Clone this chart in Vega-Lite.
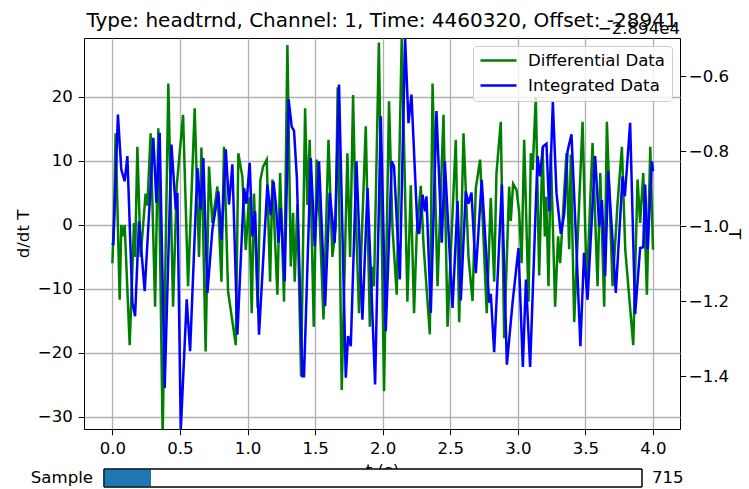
{
  "$schema": "https://vega.github.io/schema/vega-lite/v6.json",
  "padding": {"left": 14, "top": 10, "right": 0, "bottom": 0},
  "bounds": "flush",
  "spacing": 40,
  "config": {
    "font": "DejaVu Sans",
    "view": {"stroke": "#000000", "strokeWidth": 1},
    "axis": {
      "labelFont": "DejaVu Sans",
      "labelFontSize": 16.6,
      "labelColor": "#000000",
      "titleFont": "DejaVu Sans",
      "titleFontSize": 16.6,
      "titleFontWeight": "normal",
      "titleColor": "#000000",
      "tickColor": "#000000",
      "tickSize": 5.8,
      "tickWidth": 1,
      "labelPadding": 5.8,
      "domain": false,
      "gridColor": "#b0b0b0",
      "gridWidth": 1.3,
      "gridOpacity": 1
    }
  },
  "datasets": {
    "diff": [
      {"t": 0.0, "v": -6.0}, {"t": 0.012, "v": 1.3}, {"t": 0.024, "v": 14.3}, {"t": 0.054, "v": -11.7},
      {"t": 0.066, "v": 0.0}, {"t": 0.081, "v": -1.8}, {"t": 0.091, "v": 0.0}, {"t": 0.128, "v": -18.8},
      {"t": 0.16, "v": 0.3}, {"t": 0.168, "v": -5.0}, {"t": 0.185, "v": 12.2}, {"t": 0.209, "v": -5.0},
      {"t": 0.246, "v": 4.9}, {"t": 0.259, "v": 3.0}, {"t": 0.283, "v": 14.3}, {"t": 0.316, "v": -12.8},
      {"t": 0.34, "v": 15.1}, {"t": 0.372, "v": -33.0}, {"t": 0.414, "v": 22.1}, {"t": 0.449, "v": -12.8},
      {"t": 0.476, "v": 6.0}, {"t": 0.523, "v": 17.2}, {"t": 0.56, "v": -9.6}, {"t": 0.609, "v": 18.2},
      {"t": 0.641, "v": -5.0}, {"t": 0.659, "v": 12.1}, {"t": 0.69, "v": -19.8}, {"t": 0.715, "v": 9.1},
      {"t": 0.74, "v": 0.3}, {"t": 0.777, "v": 6.0}, {"t": 0.807, "v": -8.9}, {"t": 0.826, "v": 12.2},
      {"t": 0.856, "v": -10.4}, {"t": 0.913, "v": -18.8}, {"t": 0.932, "v": 11.2}, {"t": 0.962, "v": 7.5},
      {"t": 0.987, "v": -3.9}, {"t": 1.011, "v": 4.3}, {"t": 1.031, "v": -13.8}, {"t": 1.048, "v": 4.9},
      {"t": 1.075, "v": -13.0}, {"t": 1.095, "v": 7.0}, {"t": 1.115, "v": 9.1}, {"t": 1.142, "v": 10.2},
      {"t": 1.167, "v": -8.9}, {"t": 1.184, "v": 7.1}, {"t": 1.221, "v": -10.9}, {"t": 1.241, "v": 8.1},
      {"t": 1.27, "v": -12.0}, {"t": 1.295, "v": 28.1}, {"t": 1.32, "v": -6.5}, {"t": 1.337, "v": 1.9},
      {"t": 1.349, "v": -8.9}, {"t": 1.369, "v": 3.2}, {"t": 1.396, "v": -23.7}, {"t": 1.426, "v": 18.2},
      {"t": 1.443, "v": 3.1}, {"t": 1.46, "v": 13.3}, {"t": 1.49, "v": -15.9}, {"t": 1.512, "v": 10.2},
      {"t": 1.534, "v": 0.7}, {"t": 1.562, "v": -14.8}, {"t": 1.599, "v": 13.3}, {"t": 1.628, "v": -5.0},
      {"t": 1.653, "v": -0.3}, {"t": 1.667, "v": 21.5}, {"t": 1.697, "v": -25.8}, {"t": 1.739, "v": 11.2},
      {"t": 1.759, "v": -5.0}, {"t": 1.781, "v": 20.3}, {"t": 1.796, "v": 4.9}, {"t": 1.825, "v": -13.8},
      {"t": 1.875, "v": 15.4}, {"t": 1.905, "v": -15.9}, {"t": 1.924, "v": -6.5}, {"t": 1.936, "v": -9.6},
      {"t": 1.972, "v": 28.5}, {"t": 2.01, "v": -26.0}, {"t": 2.047, "v": 19.3}, {"t": 2.072, "v": -0.3},
      {"t": 2.104, "v": -10.9}, {"t": 2.141, "v": 29.4}, {"t": 2.183, "v": -12.0}, {"t": 2.208, "v": 6.2},
      {"t": 2.232, "v": -13.8}, {"t": 2.252, "v": -1.3}, {"t": 2.282, "v": 6.1}, {"t": 2.302, "v": -3.0},
      {"t": 2.349, "v": -17.1}, {"t": 2.369, "v": 22.1}, {"t": 2.406, "v": -9.6}, {"t": 2.45, "v": 17.2},
      {"t": 2.48, "v": -15.9}, {"t": 2.541, "v": 13.3}, {"t": 2.566, "v": -15.2}, {"t": 2.598, "v": 14.3},
      {"t": 2.635, "v": -5.0}, {"t": 2.665, "v": -11.9}, {"t": 2.689, "v": 5.7}, {"t": 2.721, "v": 10.2},
      {"t": 2.77, "v": -13.8}, {"t": 2.8, "v": 4.2}, {"t": 2.825, "v": -8.9}, {"t": 2.842, "v": 8.1},
      {"t": 2.874, "v": 16.1}, {"t": 2.899, "v": -17.7}, {"t": 2.936, "v": 6.0}, {"t": 2.948, "v": 0.6},
      {"t": 2.965, "v": 6.4}, {"t": 2.99, "v": 5.5}, {"t": 3.01, "v": 2.0}, {"t": 3.028, "v": -6.0},
      {"t": 3.047, "v": 13.3}, {"t": 3.079, "v": -12.0}, {"t": 3.096, "v": 11.2}, {"t": 3.11, "v": 8.6},
      {"t": 3.133, "v": 20.0}, {"t": 3.158, "v": -7.9}, {"t": 3.183, "v": 12.2}, {"t": 3.2, "v": -1.8},
      {"t": 3.21, "v": 4.4}, {"t": 3.227, "v": -9.6}, {"t": 3.244, "v": 11.2}, {"t": 3.276, "v": -12.8},
      {"t": 3.298, "v": -1.8}, {"t": 3.313, "v": -6.0}, {"t": 3.36, "v": 11.2}, {"t": 3.38, "v": -3.8},
      {"t": 3.392, "v": 11.0}, {"t": 3.417, "v": -15.2}, {"t": 3.479, "v": 16.1}, {"t": 3.51, "v": -9.9},
      {"t": 3.553, "v": 12.8}, {"t": 3.59, "v": -9.6}, {"t": 3.61, "v": 8.1}, {"t": 3.639, "v": -12.8},
      {"t": 3.659, "v": 16.1}, {"t": 3.701, "v": -9.6}, {"t": 3.738, "v": 3.4}, {"t": 3.77, "v": 12.2},
      {"t": 3.795, "v": -3.9}, {"t": 3.854, "v": -18.8}, {"t": 3.886, "v": 7.1}, {"t": 3.905, "v": 0.3},
      {"t": 3.928, "v": 8.1}, {"t": 3.955, "v": -10.9}, {"t": 3.98, "v": 12.2}, {"t": 4.0, "v": -3.9}
    ],
    "integ": [
      {"t": 0.0, "v": -1.044}, {"t": 0.007, "v": -1.05}, {"t": 0.041, "v": -0.702}, {"t": 0.066, "v": -0.849},
      {"t": 0.091, "v": -0.88}, {"t": 0.111, "v": -0.813}, {"t": 0.148, "v": -1.204}, {"t": 0.168, "v": -1.24},
      {"t": 0.197, "v": -0.987}, {"t": 0.239, "v": -1.173}, {"t": 0.303, "v": -0.764}, {"t": 0.326, "v": -0.938},
      {"t": 0.35, "v": -0.751}, {"t": 0.387, "v": -1.431}, {"t": 0.437, "v": -0.782}, {"t": 0.469, "v": -0.955},
      {"t": 0.481, "v": -0.911}, {"t": 0.506, "v": -1.545}, {"t": 0.55, "v": -1.195}, {"t": 0.575, "v": -1.333},
      {"t": 0.629, "v": -0.845}, {"t": 0.654, "v": -0.956}, {"t": 0.673, "v": -0.818}, {"t": 0.703, "v": -1.178},
      {"t": 0.74, "v": -1.009}, {"t": 0.784, "v": -0.907}, {"t": 0.807, "v": -1.036}, {"t": 0.839, "v": -0.795},
      {"t": 0.863, "v": -0.942}, {"t": 0.888, "v": -0.835}, {"t": 0.925, "v": -1.289}, {"t": 0.974, "v": -0.898},
      {"t": 0.992, "v": -0.94}, {"t": 1.016, "v": -0.831}, {"t": 1.036, "v": -1.027}, {"t": 1.056, "v": -0.96},
      {"t": 1.085, "v": -1.289}, {"t": 1.147, "v": -0.889}, {"t": 1.172, "v": -0.97}, {"t": 1.192, "v": -0.88},
      {"t": 1.209, "v": -0.938}, {"t": 1.229, "v": -1.044}, {"t": 1.246, "v": -0.951}, {"t": 1.275, "v": -1.147},
      {"t": 1.304, "v": -0.662}, {"t": 1.327, "v": -0.735}, {"t": 1.344, "v": -0.745}, {"t": 1.365, "v": -0.87},
      {"t": 1.406, "v": -1.4}, {"t": 1.418, "v": -1.4}, {"t": 1.468, "v": -0.818}, {"t": 1.497, "v": -1.053},
      {"t": 1.529, "v": -0.827}, {"t": 1.574, "v": -1.213}, {"t": 1.608, "v": -0.911}, {"t": 1.645, "v": -1.044},
      {"t": 1.677, "v": -0.622}, {"t": 1.727, "v": -1.404}, {"t": 1.744, "v": -1.293}, {"t": 1.764, "v": -1.32},
      {"t": 1.806, "v": -0.827}, {"t": 1.85, "v": -1.249}, {"t": 1.888, "v": -0.898}, {"t": 1.944, "v": -1.422},
      {"t": 1.986, "v": -0.707}, {"t": 2.023, "v": -1.28}, {"t": 2.067, "v": -0.827}, {"t": 2.084, "v": -0.84},
      {"t": 2.127, "v": -1.142}, {"t": 2.166, "v": -0.498}, {"t": 2.191, "v": -0.725}, {"t": 2.213, "v": -0.649},
      {"t": 2.258, "v": -1.009}, {"t": 2.27, "v": -1.02}, {"t": 2.295, "v": -0.916}, {"t": 2.312, "v": -0.96},
      {"t": 2.324, "v": -0.92}, {"t": 2.356, "v": -1.231}, {"t": 2.398, "v": -0.693}, {"t": 2.437, "v": -1.044},
      {"t": 2.46, "v": -0.827}, {"t": 2.517, "v": -1.218}, {"t": 2.554, "v": -0.933}, {"t": 2.578, "v": -1.198},
      {"t": 2.615, "v": -0.907}, {"t": 2.635, "v": -0.94}, {"t": 2.657, "v": -0.91}, {"t": 2.689, "v": -1.125},
      {"t": 2.733, "v": -0.876}, {"t": 2.788, "v": -1.204}, {"t": 2.8, "v": -1.18}, {"t": 2.825, "v": -1.336},
      {"t": 2.882, "v": -0.889}, {"t": 2.919, "v": -1.369}, {"t": 2.961, "v": -1.204}, {"t": 3.005, "v": -1.058},
      {"t": 3.037, "v": -1.375}, {"t": 3.06, "v": -1.142}, {"t": 3.091, "v": -1.375}, {"t": 3.146, "v": -0.813},
      {"t": 3.163, "v": -0.867}, {"t": 3.187, "v": -0.787}, {"t": 3.212, "v": -0.78}, {"t": 3.232, "v": -0.96},
      {"t": 3.259, "v": -0.669}, {"t": 3.286, "v": -0.911}, {"t": 3.318, "v": -1.02}, {"t": 3.343, "v": -0.969},
      {"t": 3.368, "v": -0.8}, {"t": 3.397, "v": -0.755}, {"t": 3.429, "v": -1.018}, {"t": 3.463, "v": -1.32},
      {"t": 3.49, "v": -1.071}, {"t": 3.516, "v": -1.196}, {"t": 3.572, "v": -0.813}, {"t": 3.602, "v": -1.0},
      {"t": 3.622, "v": -0.93}, {"t": 3.646, "v": -1.133}, {"t": 3.669, "v": -0.853}, {"t": 3.725, "v": -1.178},
      {"t": 3.775, "v": -0.867}, {"t": 3.792, "v": -0.92}, {"t": 3.831, "v": -0.724}, {"t": 3.868, "v": -1.234},
      {"t": 3.905, "v": -1.058}, {"t": 3.928, "v": -1.056}, {"t": 3.942, "v": -0.889}, {"t": 3.96, "v": -1.062},
      {"t": 3.992, "v": -0.827}, {"t": 4.0, "v": -0.853}
    ]
  },
  "vconcat": [
    {
      "width": 596,
      "height": 391,
      "title": {
        "text": "Type: headtrnd, Channel: 1, Time: 4460320, Offset: -28941",
        "font": "DejaVu Sans",
        "fontSize": 20,
        "fontWeight": "normal",
        "color": "#000000",
        "anchor": "middle",
        "frame": "group",
        "baseline": "alphabetic",
        "offset": -26
      },
      "layer": [
        {
          "layer": [
            {
              "data": {"name": "diff"},
              "mark": {"type": "line", "color": "#008000", "strokeWidth": 2.5, "clip": true},
              "encoding": {
                "x": {
                  "field": "t",
                  "type": "quantitative",
                  "scale": {"domain": [-0.21, 4.2], "nice": false, "zero": false},
                  "axis": {
                    "title": "t (s)",
                    "values": [0, 0.5, 1, 1.5, 2, 2.5, 3, 3.5, 4],
                    "format": ".1f",
                    "grid": true,
                    "titlePadding": 5
                  }
                },
                "y": {
                  "field": "v",
                  "type": "quantitative",
                  "scale": {"domain": [-31.9, 29.2], "nice": false, "zero": false},
                  "axis": {
                    "title": "d/dt T",
                    "values": [-30, -20, -10, 0, 10, 20],
                    "format": "d",
                    "grid": true,
                    "titlePadding": 6
                  }
                },
                "color": {
                  "datum": "Differential Data",
                  "type": "nominal",
                  "scale": {"domain": ["Differential Data", "Integrated Data"], "range": ["#008000", "#0000ff"]},
                  "legend": {
                    "title": null,
                    "orient": "top-right",
                    "offset": 8,
                    "symbolType": "stroke",
                    "symbolSize": 1296,
                    "symbolStrokeWidth": 2.5,
                    "clipHeight": 17,
                    "rowPadding": 7,
                    "labelOffset": 10,
                    "labelFont": "DejaVu Sans",
                    "labelFontSize": 16.6,
                    "labelColor": "#000000",
                    "padding": 6,
                    "fillColor": "rgba(255,255,255,0.8)",
                    "strokeColor": "#cccccc",
                    "cornerRadius": 3
                  }
                }
              }
            },
            {
              "data": {"values": [{"offset": "\u22122.894e4"}]},
              "mark": {"type": "text", "align": "right", "baseline": "alphabetic", "dy": -4, "fontSize": 16.6, "color": "#000000"},
              "encoding": {
                "x": {"datum": 4.2, "type": "quantitative"},
                "y": {"datum": 29.2, "type": "quantitative"},
                "text": {"field": "offset"}
              }
            }
          ]
        },
        {
          "data": {"name": "integ"},
          "mark": {"type": "line", "color": "#0000ff", "strokeWidth": 2.5, "clip": true},
          "encoding": {
            "x": {"field": "t", "type": "quantitative"},
            "y": {
              "field": "v",
              "type": "quantitative",
              "scale": {"domain": [-1.5405, -0.498], "nice": false, "zero": false},
              "axis": {
                "orient": "right",
                "title": "T",
                "values": [-1.4, -1.2, -1.0, -0.8, -0.6],
                "format": ".1f",
                "grid": false,
                "labelPadding": 2.5,
                "titlePadding": -3
              }
            },
            "color": {"datum": "Integrated Data", "type": "nominal"}
          }
        }
      ],
      "resolve": {"scale": {"y": "independent"}}
    },
    {
      "width": 596,
      "height": 18,
      "view": {"stroke": null},
      "data": {"values": [{"name": "Sample", "min": 0, "max": 8180, "value": 715}]},
      "layer": [
        {
          "mark": {"type": "rect", "fill": "#ffffff", "stroke": "#000000", "strokeWidth": 1},
          "encoding": {
            "x": {"field": "min", "type": "quantitative", "scale": {"domain": [-304, 8758], "nice": false, "zero": false}, "axis": null},
            "x2": {"field": "max"}
          }
        },
        {
          "mark": {"type": "rect", "fill": "#1f77b4"},
          "encoding": {
            "x": {"field": "min", "type": "quantitative"},
            "x2": {"field": "value"}
          }
        },
        {
          "mark": {"type": "rect", "fill": null, "stroke": "#000000", "strokeWidth": 1},
          "encoding": {
            "x": {"field": "min", "type": "quantitative"},
            "x2": {"field": "max"}
          }
        },
        {
          "mark": {"type": "text", "align": "right", "baseline": "middle", "dx": -11, "fontSize": 16.6, "color": "#000000"},
          "encoding": {
            "x": {"field": "min", "type": "quantitative"},
            "text": {"field": "name"}
          }
        },
        {
          "mark": {"type": "text", "align": "left", "baseline": "middle", "dx": 10, "fontSize": 16.6, "color": "#000000"},
          "encoding": {
            "x": {"field": "max", "type": "quantitative"},
            "text": {"field": "value"}
          }
        }
      ]
    }
  ]
}
